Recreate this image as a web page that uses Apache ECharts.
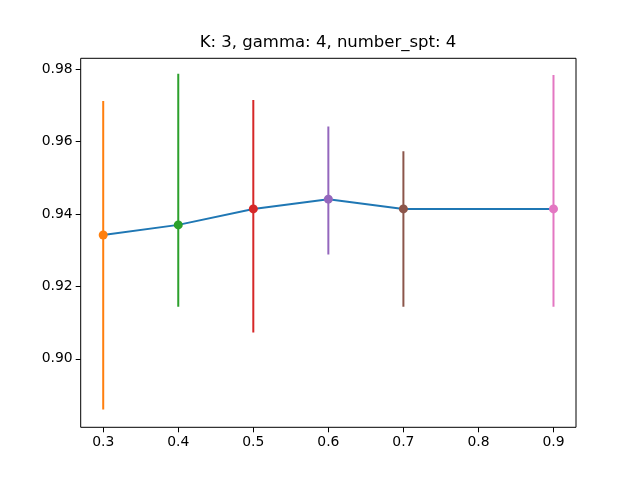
<!DOCTYPE html>
<html>
<head>
<meta charset="utf-8">
<script src="https://cdn.jsdelivr.net/npm/echarts@6/dist/echarts.min.js"></script>
<style>html,body{margin:0;padding:0;background:#fff;}#c{width:640px;height:480px;}</style>
</head>
<body>
<div id="c"></div>
<script>
const titleText = 'K: 3, gamma: 4, number_spt: 4';
const xValues = [0.3, 0.4, 0.5, 0.6, 0.7, 0.9];
const meanValues = [0.9342, 0.9370, 0.9414, 0.9441, 0.9414, 0.9414];
const lowValues = [0.8860, 0.9144, 0.9073, 0.9288, 0.9144, 0.9144];
const highValues = [0.9712, 0.9787, 0.9715, 0.9642, 0.9573, 0.9784];
const pointColors = ['#ff7f0e', '#2ca02c', '#d62728', '#9467bd', '#8c564b', '#e377c2'];
const xTicks = [0.3, 0.4, 0.5, 0.6, 0.7, 0.8, 0.9];
const yTicks = [0.90, 0.92, 0.94, 0.96, 0.98];

const font = 'DejaVu Sans';
const series = [];
series.push({
  type: 'line',
  data: xValues.map((x, i) => [x, meanValues[i]]),
  showSymbol: false,
  lineStyle: { color: '#1f77b4', width: 2 },
  z: 2,
  animation: false
});
xValues.forEach((x, i) => {
  series.push({
    type: 'line',
    data: [[x, lowValues[i]], [x, highValues[i]]],
    showSymbol: false,
    lineStyle: { color: pointColors[i], width: 2 },
    z: 3,
    animation: false
  });
  series.push({
    type: 'scatter',
    data: [[x, meanValues[i]]],
    symbolSize: 9,
    itemStyle: { color: pointColors[i], opacity: 1 },
    z: 4,
    animation: false
  });
});

const chart = echarts.init(document.getElementById('c'), null, { renderer: 'canvas' });
chart.setOption({
  backgroundColor: '#fff',
  animation: false,
  graphic: [{
    type: 'text',
    x: 328, y: 43,
    style: {
      text: titleText, fontFamily: font, fontSize: 16.5, fill: '#000',
      align: 'center', verticalAlign: 'middle'
    }
  }],
  grid: {
    left: 80.7, right: 64, top: 58.3, bottom: 52.7,
    show: true, borderColor: '#000', borderWidth: 1, backgroundColor: 'transparent'
  },
  xAxis: {
    type: 'value', min: 0.27, max: 0.93,
    splitLine: { show: false },
    axisLine: { show: false },
    axisTick: { show: true, length: 5, lineStyle: { color: '#000', width: 1 }, customValues: xTicks },
    axisLabel: {
      customValues: xTicks, margin: 8, color: '#000', fontFamily: font, fontSize: 13.9,
      formatter: v => v.toFixed(1)
    }
  },
  yAxis: {
    type: 'value', min: 0.8811, max: 0.9830,
    splitLine: { show: false },
    axisLine: { show: false },
    axisTick: { show: true, length: 5, lineStyle: { color: '#000', width: 1 }, customValues: yTicks },
    axisLabel: {
      customValues: yTicks, margin: 8, color: '#000', fontFamily: font, fontSize: 13.9,
      formatter: v => v.toFixed(2)
    }
  },
  series: series
});
</script>
</body>
</html>
